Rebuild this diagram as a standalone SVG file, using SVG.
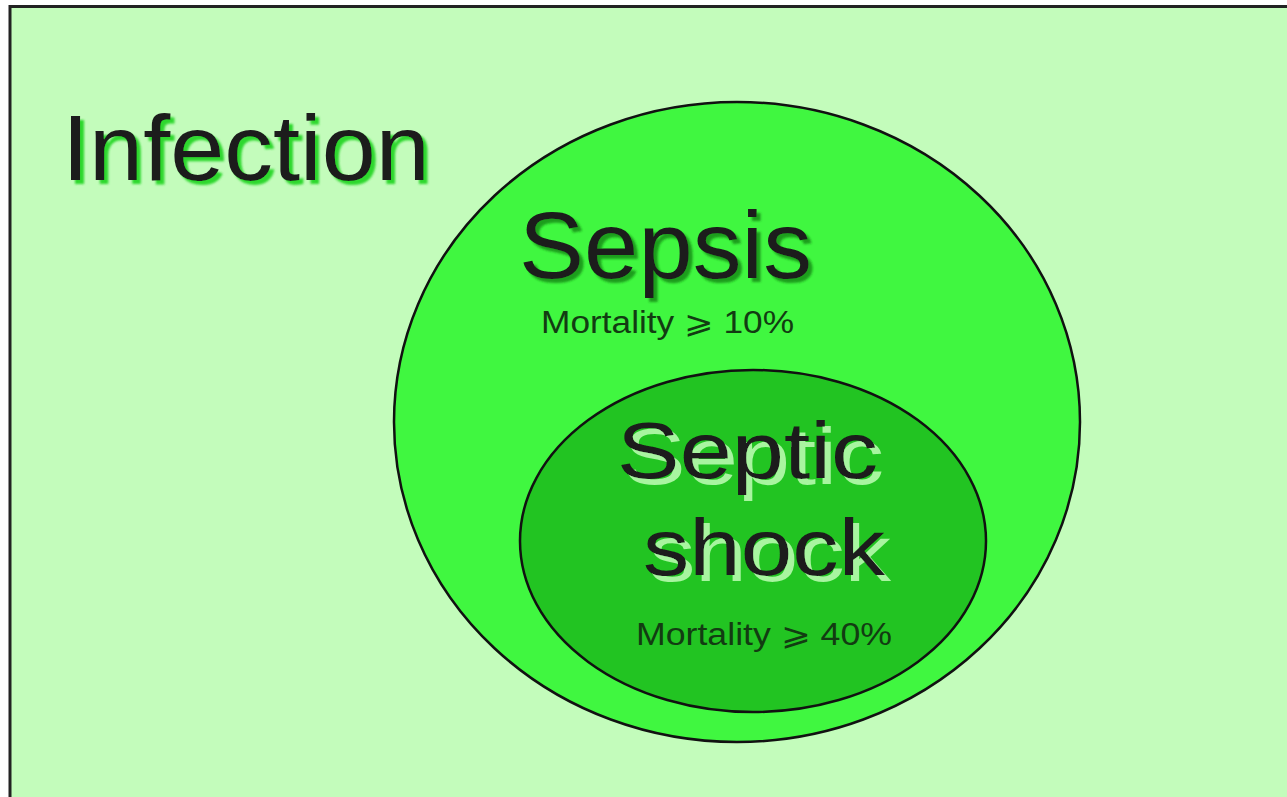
<svg xmlns="http://www.w3.org/2000/svg" width="1287" height="797" viewBox="0 0 1287 797">
<defs>
<filter id="shGreen" x="-10%" y="-20%" width="120%" height="150%">
<feFlood flood-color="#2ed82e" result="c"/>
<feComposite in="c" in2="SourceAlpha" operator="in" result="s"/>
<feOffset in="s" dx="4" dy="4" result="o"/>
<feGaussianBlur in="o" stdDeviation="0.8" result="b"/>
<feMerge><feMergeNode in="b"/><feMergeNode in="SourceGraphic"/></feMerge>
</filter>
<filter id="shDark" x="-10%" y="-20%" width="120%" height="150%">
<feFlood flood-color="#1f9e1f" result="c"/>
<feComposite in="c" in2="SourceAlpha" operator="in" result="s"/>
<feOffset in="s" dx="4" dy="4" result="o"/>
<feGaussianBlur in="o" stdDeviation="0.8" result="b"/>
<feMerge><feMergeNode in="b"/><feMergeNode in="SourceGraphic"/></feMerge>
</filter>
<filter id="shLight" x="-10%" y="-20%" width="120%" height="150%">
<feFlood flood-color="#a8f5a0" result="c"/>
<feComposite in="c" in2="SourceAlpha" operator="in" result="s"/>
<feOffset in="s" dx="6" dy="6" result="o"/>
<feGaussianBlur in="o" stdDeviation="0.6" result="b"/>
<feMerge><feMergeNode in="b"/><feMergeNode in="SourceGraphic"/></feMerge>
</filter>
</defs>
<style>
.t{font-family:"Liberation Sans",Arial,sans-serif;fill:#1a1a1a}
.m{font-family:"Liberation Sans",Arial,sans-serif;fill:#123c12}
</style>
<rect x="0" y="0" width="1287" height="797" fill="#ffffff"/>
<g id="infection">
<rect x="10" y="6.5" width="1290" height="800" fill="#c3fcbb" stroke="#222222" stroke-width="3"/>
<text class="t" x="62" y="180" font-size="93" textLength="368" lengthAdjust="spacingAndGlyphs" filter="url(#shGreen)">Infection</text>
</g>
<g id="sepsis">
<ellipse cx="737" cy="422" rx="343" ry="320" fill="#40f740" stroke="#111" stroke-width="2.5"/>
<text class="t" x="519" y="278" font-size="94" textLength="293" lengthAdjust="spacingAndGlyphs" filter="url(#shDark)">Sepsis</text>
<text class="m" x="541" y="333" font-size="31" textLength="253" lengthAdjust="spacingAndGlyphs">Mortality ⩾ 10%</text>
</g>
<g id="septic-shock">
<ellipse cx="753" cy="541" rx="233" ry="171" fill="#22c422" stroke="#111" stroke-width="2.5"/>
<text class="t" x="617" y="478" font-size="80" textLength="261" lengthAdjust="spacingAndGlyphs" filter="url(#shLight)">Septic</text>
<text class="t" x="643" y="575" font-size="80" textLength="242" lengthAdjust="spacingAndGlyphs" filter="url(#shLight)">shock</text>
<text class="m" x="636" y="645" font-size="31" textLength="256" lengthAdjust="spacingAndGlyphs">Mortality ⩾ 40%</text>
</g>
<g id="connectors"></g>
</svg>
